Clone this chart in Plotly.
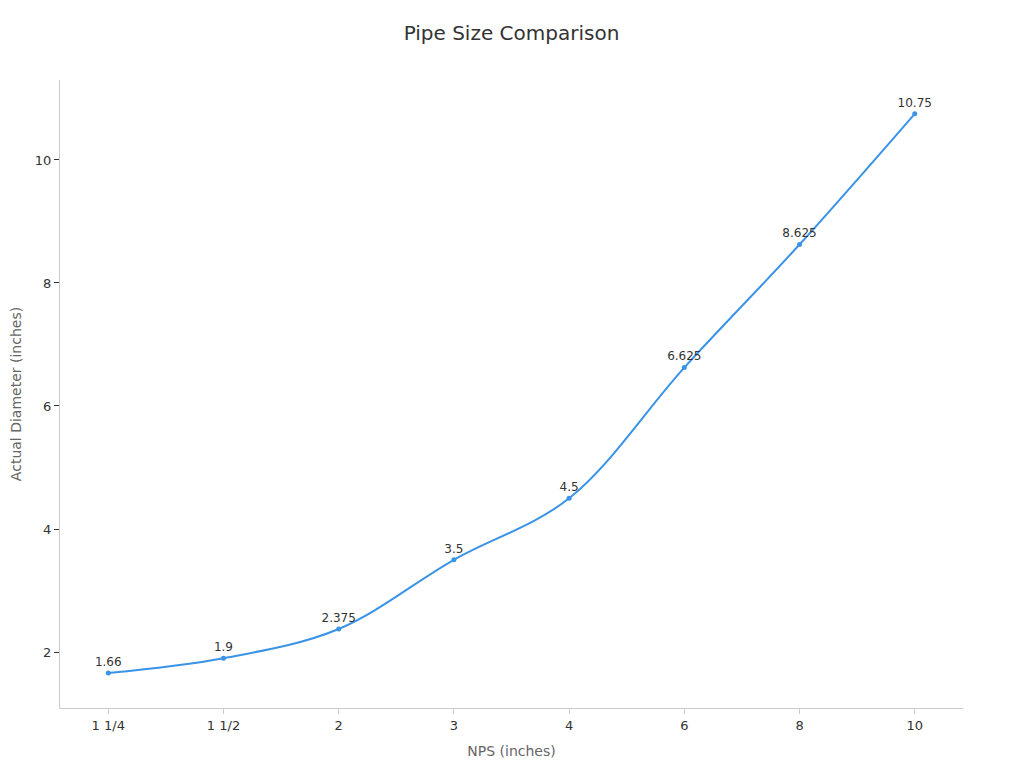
import plotly.graph_objects as go

nps = ["1 1/4", "1 1/2", "2", "3", "4", "6", "8", "10"]
actual_od = [1.66, 1.9, 2.375, 3.5, 4.5, 6.625, 8.625, 10.75]
labels = ["1.66", "1.9", "2.375", "3.5", "4.5", "6.625", "8.625", "10.75"]

fig = go.Figure()
fig.add_trace(go.Scatter(
    x=nps, y=actual_od, text=labels,
    mode="lines+markers+text", textposition="top center",
    line=dict(color="#3a93e6", width=2, shape="spline"),
    marker=dict(size=5, color="#3a93e6"),
    textfont=dict(size=12, color="#333333"),
    showlegend=False,
))

# page body has an 8px margin, so size the figure to fit the window
fig.update_layout(
    title=dict(text="Pipe Size Comparison", x=0.5, xref="paper", y=0.967,
               xanchor="center", yanchor="middle",
               font=dict(size=20, color="#333333")),
    font=dict(family="DejaVu Sans", size=12, color="#333333"),
    width=1016, height=760,
    margin=dict(l=52, r=61, t=72, b=60),
    plot_bgcolor="white", paper_bgcolor="white",
)
fig.update_xaxes(
    title=dict(text="NPS (inches)", font=dict(size=14, color="#666666"), standoff=14),
    showgrid=False, showline=True, linecolor="#cccccc", linewidth=1,
    ticks="outside", tickcolor="#cccccc", ticklen=5,
    tickfont=dict(size=13, color="#333333"),
)
fig.update_yaxes(
    title=dict(text="Actual Diameter (inches)", font=dict(size=14, color="#666666"), standoff=19),
    showgrid=False, showline=True, linecolor="#cccccc", linewidth=1,
    ticks="outside", tickcolor="#333333", ticklen=5,
    tickfont=dict(size=13, color="#333333"), automargin=False,
    range=[1.09, 11.3], zeroline=False, tickvals=[2, 4, 6, 8, 10],
)

fig.write_html("out.html")
